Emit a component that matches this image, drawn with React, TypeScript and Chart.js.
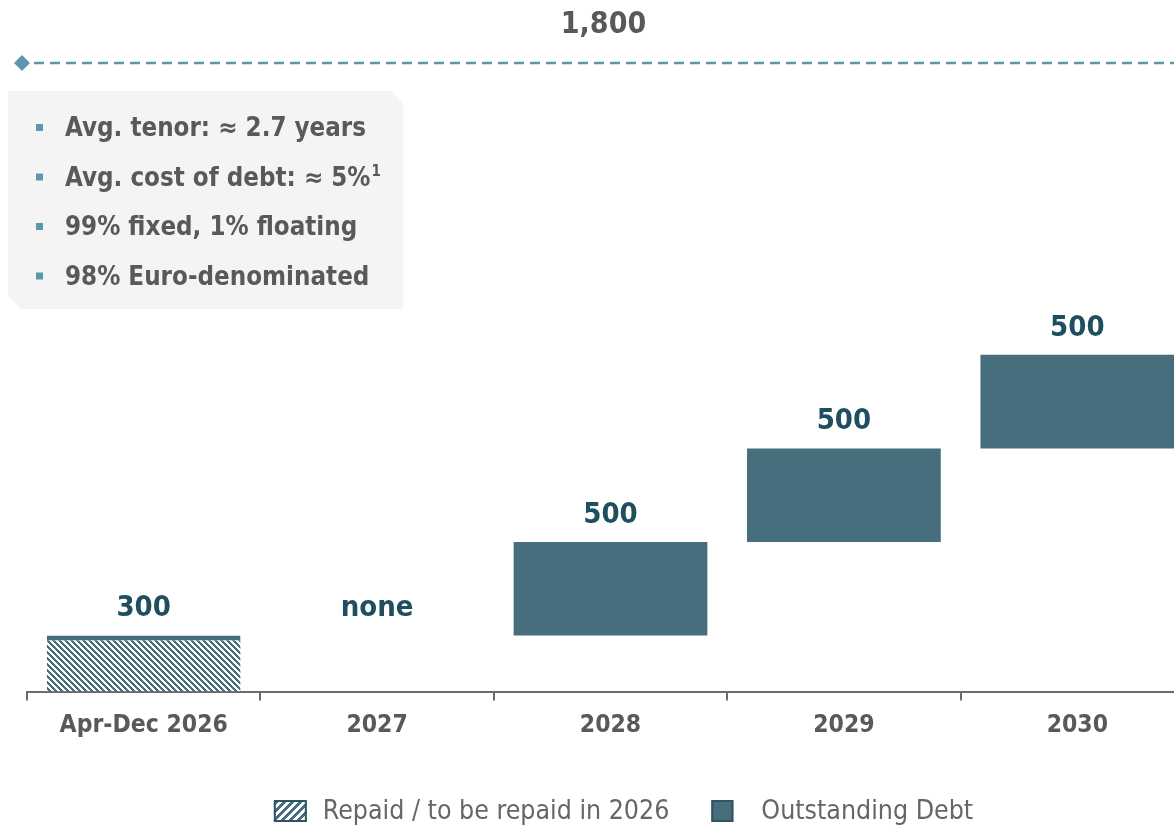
import React, { useEffect, useRef } from 'react';
import { Chart, registerables } from 'chart.js';

Chart.register(...registerables);

// ---- data ----
const CATEGORIES = ['Apr-Dec 2026', '2027', '2028', '2029', '2030'];
const REPAID = [300, 0, 0, 0, 0];
const OUTSTANDING = [0, 0, 500, 500, 500];
const TOTAL = 1800;
const EMPTY_LABEL = 'none';
const LEGEND_LABELS = ['Repaid / to be repaid in 2026', 'Outstanding Debt'];
const NOTES = ['Avg. tenor: ≈ 2.7 years', 'Avg. cost of debt: ≈ 5%', '99% fixed, 1% floating', '98% Euro-denominated'];
const NOTE_SUPS = ['', '1', '', ''];
const Y_MAX = 3360;

// ---- styles ----
const FONT = '"DejaVu Sans Condensed", "DejaVu Sans", sans-serif';
const BAR = '#466e7c';
const LABEL = '#1f4f5f';
const GRAY = '#595959';
const LEGEND_GRAY = '#666666';
const LINE = '#5b99aa';
const AXIS = '#6b6b6b';
const BOX = '#f4f4f4';

function stripeTile(period: number, width: number, dir: 'back' | 'fwd', fg: string, bg: string) {
  const c = document.createElement('canvas');
  c.width = period;
  c.height = period;
  const g = c.getContext('2d')!;
  g.fillStyle = bg;
  g.fillRect(0, 0, period, period);
  g.fillStyle = fg;
  for (let y = 0; y < period; y++) {
    for (let x = 0; x < period; x++) {
      const k = dir === 'back' ? x - y : x + y;
      if (((k % period) + period) % period < width) g.fillRect(x, y, 1, 1);
    }
  }
  return c;
}

export default function App() {
  const ref = useRef<HTMLCanvasElement>(null);

  useEffect(() => {
    const canvas = ref.current!;
    const ctx = canvas.getContext('2d')!;
    const hatch = ctx.createPattern(stripeTile(6, 3, 'back', BAR, '#ffffff'), 'repeat')!;
    const legendHatch = ctx.createPattern(stripeTile(8, 4, 'fwd', '#ffffff', BAR), 'repeat')!;

    const starts: number[] = [];
    let acc = 0;
    CATEGORIES.forEach((_, i) => {
      starts.push(acc);
      acc += REPAID[i] + OUTSTANDING[i];
    });
    const repaidData = REPAID.map((v, i) => (v > 0 ? [starts[i], starts[i] + v] : null));
    const outData = OUTSTANDING.map((v, i) =>
      v > 0 ? [starts[i] + REPAID[i], starts[i] + REPAID[i] + v] : null
    );

    const overlay = {
      id: 'overlay',
      beforeDraw(chart: any) {
        const g = chart.ctx;
        g.save();
        g.fillStyle = '#ffffff';
        g.fillRect(0, 0, chart.width, chart.height);
        g.restore();
      },
      afterDraw(chart: any) {
        const g: CanvasRenderingContext2D = chart.ctx;
        const xs = chart.scales.x;
        const ys = chart.scales.y;
        const y2 = chart.scales.y2;
        const area = chart.chartArea;
        g.save();

        // total dashed line
        const ly = y2.getPixelForValue(TOTAL);
        const lx = area.left - 5;
        g.strokeStyle = LINE;
        g.lineWidth = 2.5;
        g.setLineDash([10, 6]);
        g.beginPath();
        g.moveTo(lx + 12, ly);
        g.lineTo(chart.width, ly);
        g.stroke();
        g.setLineDash([]);
        g.fillStyle = LINE;
        g.beginPath();
        g.moveTo(lx, ly - 8);
        g.lineTo(lx + 8, ly);
        g.lineTo(lx, ly + 8);
        g.lineTo(lx - 8, ly);
        g.closePath();
        g.fill();
        g.fillStyle = GRAY;
        g.font = `bold 30px ${FONT}`;
        g.textAlign = 'center';
        g.textBaseline = 'alphabetic';
        g.fillText(TOTAL.toLocaleString('en-US'), xs.getPixelForValue(2) - 7, ly - 30);

        // value labels
        g.fillStyle = LABEL;
        g.font = `bold 29px ${FONT}`;
        CATEGORIES.forEach((_, i) => {
          const add = REPAID[i] + OUTSTANDING[i];
          const top = ys.getPixelForValue(starts[i] + add);
          g.fillText(add > 0 ? add.toLocaleString('en-US') : EMPTY_LABEL, xs.getPixelForValue(i), top - 19);
        });

        // notes box
        g.fillStyle = BOX;
        g.beginPath();
        g.moveTo(8, 91);
        g.lineTo(391, 91);
        g.lineTo(403, 103);
        g.lineTo(403, 309);
        g.lineTo(21, 309);
        g.lineTo(8, 296);
        g.closePath();
        g.fill();
        g.textAlign = 'left';
        NOTES.forEach((t, i) => {
          const base = 136 + i * 49.5;
          g.fillStyle = LINE;
          g.fillRect(36, base - 12, 7, 7);
          g.fillStyle = GRAY;
          g.font = `bold 25.7px ${FONT}`;
          g.fillText(t, 65, base);
          if (NOTE_SUPS[i]) {
            const w = g.measureText(t).width;
            g.font = `bold 15px ${FONT}`;
            g.fillText(NOTE_SUPS[i], 65 + w + 1, base - 10);
          }
        });

        // legend
        g.font = `26.5px ${FONT}`;
        g.textBaseline = 'middle';
        const items = [
          { w: 33, h: 22, gap: 16, fill: legendHatch as any, text: LEGEND_LABELS[0] },
          { w: 22, h: 22, gap: 28, fill: BAR as any, text: LEGEND_LABELS[1] },
        ];
        const between = 42;
        let total = 0;
        items.forEach((it, i) => {
          total += it.w + it.gap + g.measureText(it.text).width + (i ? 0 : between);
        });
        let x = (area.left + area.right) / 2 + 13 - total / 2;
        const cy = 811;
        items.forEach((it) => {
          g.fillStyle = it.fill;
          g.fillRect(x, cy - it.h / 2, it.w, it.h);
          g.strokeStyle = '#2f5563';
          g.lineWidth = 2;
          g.strokeRect(x + 1, cy - it.h / 2 + 1, it.w - 2, it.h - 2);
          x += it.w + it.gap;
          g.fillStyle = LEGEND_GRAY;
          g.fillText(it.text, x, cy + 1);
          x += g.measureText(it.text).width + between;
        });

        g.restore();
      },
    };

    const chart = new Chart(canvas, {
      type: 'bar',
      data: {
        labels: CATEGORIES,
        datasets: [
          {
            label: LEGEND_LABELS[0],
            data: repaidData as any,
            backgroundColor: hatch as any,
            borderColor: BAR,
            borderWidth: { top: 5, left: 0, right: 0, bottom: 0 } as any,
            borderSkipped: false,
            grouped: false,
            categoryPercentage: 1,
            barPercentage: 0.83,
          },
          {
            label: LEGEND_LABELS[1],
            data: outData as any,
            backgroundColor: BAR,
            borderWidth: 0,
            grouped: false,
            categoryPercentage: 1,
            barPercentage: 0.83,
          },
        ],
      },
      options: {
        animation: false,
        responsive: false,
        events: [],
        layout: { padding: { top: 63, left: 27, right: 0, bottom: 77 } },
        plugins: { legend: { display: false }, tooltip: { enabled: false } },
        scales: {
          x: {
            grid: { offset: true, drawOnChartArea: false, drawTicks: true, tickLength: 9, color: AXIS, lineWidth: 2 },
            border: { color: AXIS, width: 2 },
            ticks: { color: GRAY, font: { family: FONT, size: 24.5, weight: 'bold' }, padding: 10, maxRotation: 0 },
          },
          y: { display: false, min: 0, max: Y_MAX },
          y2: { display: false, min: 0, max: TOTAL },
        },
      },
      plugins: [overlay],
    });
    return () => chart.destroy();
  }, []);

  return (
    <div style={{ position: 'absolute', left: 0, top: 0, width: 1174, height: 827, overflow: 'hidden', background: '#fff' }}>
      <canvas ref={ref} width={1194} height={827} style={{ display: 'block', width: 1194, height: 827 }} />
    </div>
  );
}
